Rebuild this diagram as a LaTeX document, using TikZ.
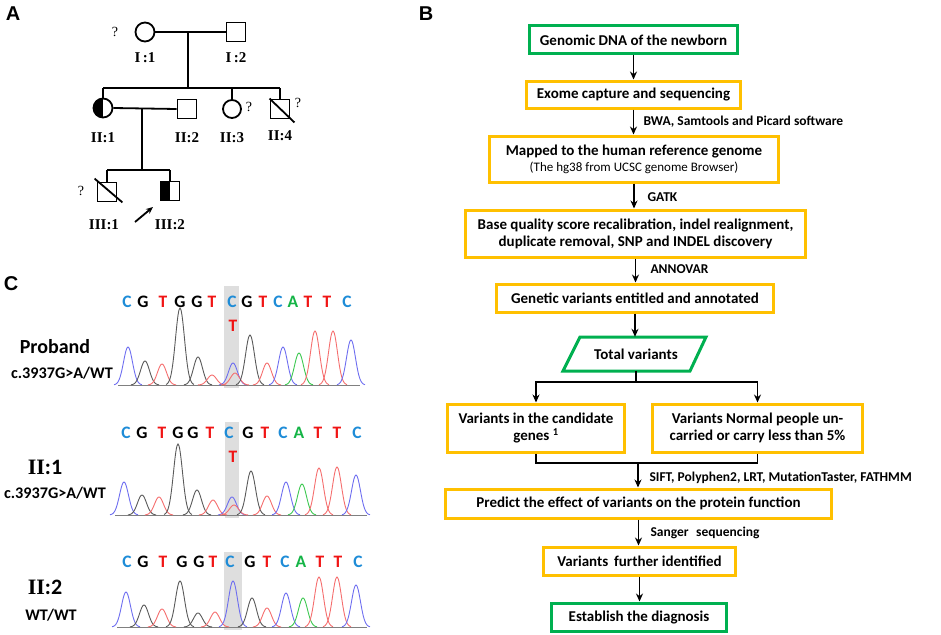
\documentclass[tikz,border=0pt]{standalone}
\usepackage{fontspec}
\setmainfont{Carlito}
\newfontfamily\arialf{Liberation Sans}
\newfontfamily\timesf{Liberation Serif}
\usetikzlibrary{arrows.meta,calc}
\definecolor{orng}{RGB}{255,192,0}
\definecolor{grn}{RGB}{0,176,80}
\definecolor{cblue}{RGB}{30,140,215}
\definecolor{tred}{RGB}{240,20,20}
\definecolor{agrn}{RGB}{20,180,70}
\definecolor{pkblue}{RGB}{110,110,240}
\definecolor{pkgray}{RGB}{90,90,90}
\definecolor{pkred}{RGB}{245,110,110}
\definecolor{pkgreen}{RGB}{60,200,80}
\definecolor{hl}{RGB}{222,222,222}
\newcommand\pk[4]{\pgfmathsetmacro\pka{#2-14}\pgfmathsetmacro\pkb{#2+14}%
  \draw[#1,line width=0.9pt] plot[domain=\pka:\pkb,samples=29,smooth] (\x,{#3-#4*exp(-((\x-#2)^2)/40)});}
\begin{document}
\begin{tikzpicture}[x=1pt,y=-1pt,
  obox/.style={draw=orng,line width=3pt,align=center,inner sep=0pt,font=\fontsize{15}{17}\selectfont\bfseries},
  gbox/.style={obox,draw=grn},
  arr/.style={-{Stealth[length=8pt,width=7pt]},line width=1.8pt},
  conn/.style={line width=1.8pt},
  lbl/.style={anchor=west,font=\fontsize{13.5}{15}\selectfont\bfseries},
  ped/.style={line width=1.8pt},
  pedsq/.style={draw,ped,minimum size=19pt,inner sep=0pt},
  pedci/.style={draw,ped,circle,minimum size=19pt,inner sep=0pt},
  pedlbl/.style={font=\timesf\fontsize{15}{17}\selectfont\bfseries},
  qm/.style={font=\timesf\fontsize{14}{16}\selectfont},
  panel/.style={font=\arialf\fontsize{20}{22}\selectfont\bfseries},
  seqf/.style={font=\fontsize{17.5}{19}\selectfont\bfseries,inner sep=0pt},
  clbl/.style={font=\fontsize{16.2}{18}\selectfont\bfseries}
]
\useasboundingbox (0,0) rectangle (941,634);
% panel letters
\node[panel] (pA) at (13,14) {A};
\node[panel] (pB) at (426,14) {B};
\node[panel] (pC) at (11,284) {C};

% ---------- pedigree ----------
\node[pedci] (i1) at (145,32) {};
\node[pedsq] (i2) at (236,32) {};
\node[qm] (q1) at (115,32) {?};
\draw[ped] (i1.east) -- (i2.west);
\coordinate (d1) at (188,32);
\coordinate (s1) at (188,88);
\draw[ped] (d1) -- (s1);
\node[pedlbl] (l1) at (145,58) {I\,:1};
\node[pedlbl] (l2) at (236,58) {I\,:2};

\node[pedci,path picture={\fill (path picture bounding box.north west) rectangle (path picture bounding box.south);}] (ii1) at (103,108) {};
\node[pedsq] (ii2) at (187,109) {};
\node[pedci,minimum size=18pt] (ii3) at (232,109) {};
\node[pedsq] (ii4) at (280,109) {};
\draw[ped] (ii1.north |- s1) -- (ii4.north |- s1);
\draw[ped] (ii1.north |- s1) -- (ii1.north);
\draw[ped] (ii3.north |- s1) -- (ii3.north);
\draw[ped] (ii4.north |- s1) -- (ii4.north);
\draw[ped] (ii1.east) -- (ii2.west);
\draw[ped] (ii4.north west) -- ($(ii4.south east)+(4,3)$);
\node[qm] (q3) at (249,107) {?};
\node[qm] (q4) at (298,103) {?};
\node[pedlbl] (l3) at (103,138) {II:1};
\node[pedlbl] (l4) at (187,138) {II:2};
\node[pedlbl] (l5) at (232,138) {II:3};
\node[pedlbl] (l6) at (280,136) {II:4};

\coordinate (d2) at (142,108);
\coordinate (s2) at (142,170);
\draw[ped] (d2) -- (s2);
\node[pedsq] (iii1) at (107,192) {};
\node[pedsq,path picture={\fill (path picture bounding box.north west) rectangle (path picture bounding box.south);}] (iii2) at (170,191) {};
\draw[ped] (iii1.north |- s2) -- (iii2.north |- s2);
\draw[ped] (iii1.north |- s2) -- (iii1.north);
\draw[ped] (iii2.north |- s2) -- (iii2.north);
\draw[ped] ($(iii1.north west)+(-2,-3)$) -- ($(iii1.south east)+(5,0)$);
\node[qm] (q5) at (81,191) {?};
\coordinate (pa1) at (135,222);
\coordinate (pa2) at (153,207);
\draw[-{Stealth[length=7pt,width=6pt]},line width=1.8pt] (pa1) -- (pa2);
\node[pedlbl] (l7) at (104,225) {III:1};
\node[pedlbl] (l8) at (170,225) {III:2};

% ---------- flowchart ----------
\node[gbox,minimum width=208pt,minimum height=28pt] (b1) at (633.5,40) {Genomic DNA of the newborn};
\node[obox,minimum width=214pt,minimum height=27pt] (b2) at (633.5,94.5) {Exome capture and sequencing};
\node[obox,minimum width=289pt,minimum height=46pt] (b3) at (634,159) {Mapped to the human reference genome\\[-1pt]{\mdseries\fontsize{13}{15}\selectfont (The hg38 from UCSC genome Browser)}};
\node[obox,minimum width=340pt,minimum height=47pt] (b4) at (635.5,233.5) {Base quality score recalibration, indel realignment,\\duplicate removal, SNP and INDEL discovery};
\node[obox,minimum width=277pt,minimum height=28pt] (b5) at (635,298) {Genetic variants entitled and annotated};
\node[inner sep=0pt,minimum width=120pt,minimum height=34pt,font=\fontsize{15}{17}\selectfont\bfseries] (tv) at (636,354) {Total variants};
\draw[grn,line width=3pt,line join=miter] ($(tv.center)+(-73,17)$) -- ($(tv.center)+(-56,-17)$) -- ($(tv.center)+(70,-17)$) -- ($(tv.center)+(54,17)$) -- cycle;
\node[obox,minimum width=177pt,minimum height=48pt] (bl) at (536,428) {Variants in the candidate\\genes \textsuperscript{1}};
\node[obox,minimum width=210pt,minimum height=48pt] (br) at (757.5,428) {Variants Normal people un-\\carried or carry less than 5\%};
\node[obox,minimum width=386pt,minimum height=29pt] (b6) at (638.5,503.5) {Predict the effect of variants on the protein function};
\node[obox,minimum width=192pt,minimum height=28pt] (b7) at (639.5,561) {Variants\, further identified};
\node[gbox,minimum width=175pt,minimum height=28pt] (b8) at (639,617) {Establish the diagnosis};

\draw[arr] (b1.south) -- (b1.south |- b2.north);
\draw[arr] (b2.south) -- (b2.south |- b3.north);
\draw[arr] (b3.south) -- (b3.south |- b4.north);
\draw[arr] (b4.south) -- (b4.south |- b5.north);
\draw[arr] (b5.south) -- (b5.south |- tv.north);
\coordinate (sp) at (636,382);
\draw[conn] (tv.south) -- (sp);
\draw[arr] (sp) -| (bl.north);
\draw[arr] (sp) -| (br.north);
\coordinate (mg) at (638,463);
\draw[conn] (bl.south) |- (mg);
\draw[conn] (br.south) |- (mg);
\draw[arr] (mg) -- (mg |- b6.north);
\draw[arr] (b6.south) -- (b6.south |- b7.north);
\draw[arr] (b7.south) -- (b7.south |- b8.north);

\node[lbl] (t1) at (640,122) {BWA, Samtools and Picard software};
\node[lbl] (t2) at (644,197) {GATK};
\node[lbl] (t3) at (647,269) {ANNOVAR};
\node[lbl] (t4) at (646,478) {SIFT, Polyphen2, LRT, MutationTaster, FATHMM};
\node[lbl] (t5) at (647,533) {Sanger\,\, sequencing};

% ---------- chromatograms ----------
\fill[hl] (224,286) rectangle (239,388);
\fill[hl] (225,422) rectangle (239,518);
\fill[hl] (224,552) rectangle (242,630);

\foreach \l/\c/\xx [count=\i] in {C/cblue/127,G/black/143,T/tred/163,G/black/180,G/black/197,T/tred/212,C/cblue/232,G/black/247,T/tred/263,C/cblue/278,A/agrn/293,T/tred/308,T/tred/327,C/cblue/347}
  \node[seqf,text=\c] (ra\i) at (\xx,302) {\l};
\node[seqf,text=tred] (rat) at (233,326) {T};
\foreach \l/\c/\xx [count=\i] in {C/cblue/126,G/black/142,T/tred/162,G/black/178,G/black/193,T/tred/210,C/cblue/229,G/black/248,T/tred/265,C/cblue/283,A/agrn/299,T/tred/318,T/tred/337,C/cblue/357}
  \node[seqf,text=\c] (rb\i) at (\xx,433) {\l};
\node[seqf,text=tred] (rbt) at (233,457) {T};
\foreach \l/\c/\xx [count=\i] in {C/cblue/127,G/black/143,T/tred/163,G/black/182,G/black/199,T/tred/213,C/cblue/230,G/black/250,T/tred/267,C/cblue/285,A/agrn/301,T/tred/320,T/tred/338,C/cblue/358}
  \node[seqf,text=\c] (rc\i) at (\xx,562) {\l};

% row 1
\draw[gray,line width=1.2pt] (118,385.5) -- (360,385.5);
\pk{pkblue}{128}{385}{38}\pk{pkgray}{145}{385}{24}\pk{pkred}{162}{385}{21}
\pk{pkgray}{180}{385}{77}\pk{pkgray}{198}{385}{28}\pk{pkred}{212}{385}{10}
\pk{pkblue}{233}{385}{22}\pk{pkred}{235}{385}{12}\pk{pkgray}{250}{385}{50}
\pk{pkred}{267}{385}{22}\pk{pkblue}{283}{385}{38}\pk{pkgreen}{299}{385}{32}
\pk{pkred}{315}{385}{54}\pk{pkred}{333}{385}{54}\pk{pkblue}{351}{385}{45}
% row 2
\draw[gray,line width=1.2pt] (115,515.5) -- (367,515.5);
\pk{pkblue}{124}{515}{33}\pk{pkgray}{142}{515}{20}\pk{pkred}{159}{515}{18}
\pk{pkgray}{178}{515}{71}\pk{pkgray}{197}{515}{25}\pk{pkred}{213}{515}{15}
\pk{pkblue}{232}{515}{18}\pk{pkred}{234}{515}{10}\pk{pkgray}{251}{515}{44}
\pk{pkred}{267}{515}{19}\pk{pkblue}{286}{515}{33}\pk{pkgreen}{302}{515}{31}
\pk{pkred}{319}{515}{47}\pk{pkred}{337}{515}{48}\pk{pkblue}{356}{515}{40}
% row 3
\draw[gray,line width=1.2pt] (117,627.5) -- (367,627.5);
\pk{pkblue}{126}{627}{35}\pk{pkgray}{144}{627}{22}\pk{pkred}{162}{627}{18}
\pk{pkgray}{180}{627}{46}\pk{pkgray}{198}{627}{14}\pk{pkred}{215}{627}{15}
\pk{pkblue}{233}{627}{46}\pk{pkgray}{252}{627}{29}\pk{pkred}{267}{627}{19}
\pk{pkblue}{286}{627}{34}\pk{pkgreen}{303}{627}{29}\pk{pkred}{319}{627}{50}
\pk{pkred}{337}{627}{50}\pk{pkblue}{356}{627}{42}

\node[font=\fontsize{20}{22}\selectfont\bfseries] (c1) at (55,347) {Proband};
\node[clbl] (c2) at (62,373) {c.3937G>A/WT};
\node[font=\fontsize{22}{24}\selectfont\bfseries] (c3) at (45,467) {{\timesf II}:1};
\node[clbl] (c4) at (55,493) {c.3937G>A/WT};
\node[font=\fontsize{22}{24}\selectfont\bfseries] (c5) at (45,587) {{\timesf II}:2};
\node[clbl] (c6) at (51,615) {WT/WT};
\end{tikzpicture}
\end{document}
